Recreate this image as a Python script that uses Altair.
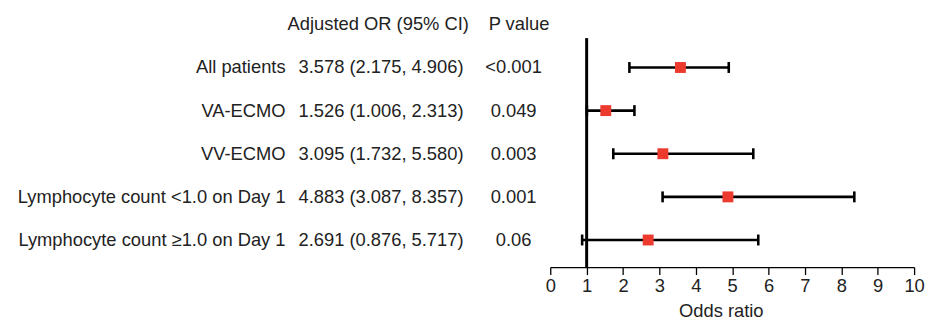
import altair as alt
import pandas as pd

labels = ["All patients", "VA-ECMO", "VV-ECMO",
          "Lymphocyte count <1.0 on Day 1", "Lymphocyte count \u22651.0 on Day 1"]
or_vals = [3.578, 1.526, 3.095, 4.883, 2.691]
lo_vals = [2.175, 1.006, 1.732, 3.087, 0.876]
hi_vals = [4.906, 2.313, 5.580, 8.357, 5.717]
p_vals = ["<0.001", "0.049", "0.003", "0.001", "0.06"]
headers = ["Adjusted OR (95% CI)", "P value"]
x_ticks = [0, 1, 2, 3, 4, 5, 6, 7, 8, 9, 10]

df = pd.DataFrame({
    "label": labels,
    "or": or_vals,
    "lo": lo_vals,
    "hi": hi_vals,
    "p": p_vals,
    "ci": [f"{o:.3f} ({l:.3f}, {h:.3f})" for o, l, h in zip(or_vals, lo_vals, hi_vals)],
})
hdf = pd.DataFrame({"h": headers, "col": ["ci", "p"]})

FONT = "Liberation Sans"
FS = 18.5
TXT = "#222222"

yenc = alt.Y("label:N", sort=labels,
             scale=alt.Scale(type="point", padding=0.655, align=0.52), axis=None)
xscale = alt.Scale(domain=[0, 10], nice=False, zero=False)
xaxis = alt.Axis(values=x_ticks, tickCount=11, title="Odds ratio", grid=False,
                 domainColor="black", domainWidth=1.3,
                 tickColor="black", tickWidth=1.3, tickSize=7.5,
                 labelFontSize=FS, labelColor=TXT, labelFont=FONT,
                 labelPadding=2, labelFlush=False, labelOverlap=False,
                 titleFontSize=FS, titleFontWeight="normal", titleColor=TXT,
                 titleFont=FONT, titleBaseline="alphabetic", titleY=50, titleX=172)

base = alt.Chart(df)

ref = alt.Chart(pd.DataFrame({"v": [1]})).mark_rule(color="black", strokeWidth=3).encode(
    x=alt.X("v:Q", scale=xscale, axis=xaxis, title="Odds ratio"))

bars = base.mark_rule(color="black", strokeWidth=2.6).encode(
    x=alt.X("lo:Q", scale=xscale, axis=xaxis, title="Odds ratio"), x2="hi:Q", y=yenc)
cap_lo = base.mark_tick(color="black", thickness=2.6, size=11, opacity=1).encode(
    x=alt.X("lo:Q", scale=xscale, axis=xaxis, title="Odds ratio"), y=yenc)
cap_hi = base.mark_tick(color="black", thickness=2.6, size=11, opacity=1).encode(
    x=alt.X("hi:Q", scale=xscale, axis=xaxis, title="Odds ratio"), y=yenc)
pts = base.mark_square(color="#EC3A2F", size=121, opacity=1).encode(
    x=alt.X("or:Q", scale=xscale, axis=xaxis, title="Odds ratio"), y=yenc)

t_label = base.mark_text(align="right", baseline="middle", font=FONT, fontSize=FS, color=TXT).encode(
    x=alt.value(-267), y=yenc, text="label:N")
t_ci = base.mark_text(align="left", baseline="middle", font=FONT, fontSize=FS, color=TXT).encode(
    x=alt.value(-254), y=yenc, text="ci:N")
t_p = base.mark_text(align="center", baseline="middle", font=FONT, fontSize=FS, color=TXT).encode(
    x=alt.value(-37), y=yenc, text="p:N")

h_ci = alt.Chart(hdf).transform_filter(alt.datum.col == "ci").mark_text(
    align="center", baseline="middle", font=FONT, fontSize=FS, color=TXT).encode(
    x=alt.value(-173.5), y=alt.value(-14), text="h:N")
h_p = alt.Chart(hdf).transform_filter(alt.datum.col == "p").mark_text(
    align="center", baseline="middle", font=FONT, fontSize=FS, color=TXT).encode(
    x=alt.value(-31.5), y=alt.value(-14), text="h:N")

chart = alt.layer(ref, bars, cap_lo, cap_hi, pts, t_label, t_ci, t_p, h_ci, h_p).properties(
    width=367, height=231,
    autosize=alt.AutoSizeParams(type="none"),
    padding={"left": 547, "top": 29, "right": 11, "bottom": 54},
    background="white",
).configure_view(stroke=None).configure_axis(labelOverlap=False)

chart.save("out.html", embed_options={"renderer": "svg", "actions": False})
